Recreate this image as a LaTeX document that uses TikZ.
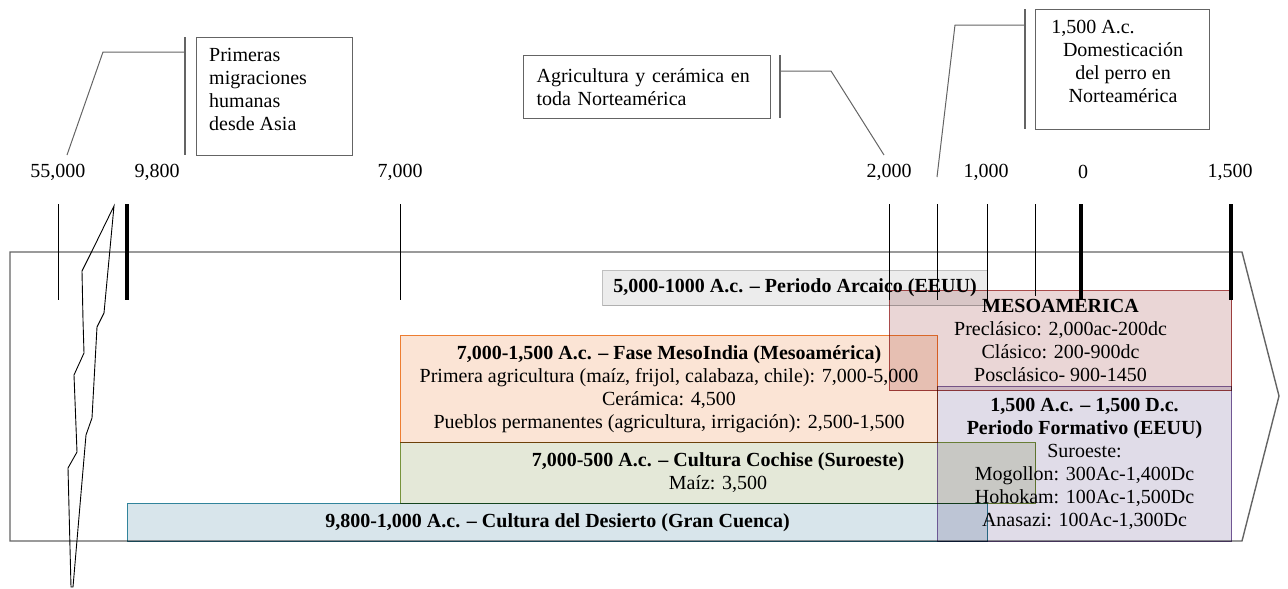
\documentclass[tikz,border=0pt]{standalone}
\usepackage{fontspec}
\setmainfont{Liberation Serif}
\definecolor{outl}{RGB}{100,100,100}
\definecolor{meso}{RGB}{234,214,214}
\definecolor{mesoB}{RGB}{170,75,75}
\definecolor{indi}{RGB}{251,228,213}
\definecolor{indiB}{RGB}{237,125,49}
\definecolor{form}{RGB}{224,220,232}
\definecolor{formB}{RGB}{128,100,162}
\definecolor{coch}{RGB}{228,232,216}
\definecolor{cochB}{RGB}{119,147,60}
\definecolor{dese}{RGB}{216,229,235}
\definecolor{deseB}{RGB}{49,132,155}
\definecolor{arca}{RGB}{236,236,236}
\definecolor{arcaB}{RGB}{191,191,191}
\begin{document}
\begin{tikzpicture}[x=1pt,y=-1pt]
\tikzset{
  txt/.style={font=\fontsize{20}{23}\selectfont, inner sep=0pt},
  bar/.style={txt, anchor=north west, align=center, line width=1pt},
  callout/.style={draw=outl, line width=1.2pt, anchor=north west, inner sep=0pt, fill=white},
  leader/.style={draw=outl, line width=1pt},
  bracket/.style={draw=outl, line width=1.6pt},
  thintick/.style={draw=black, line width=1pt},
  thicktick/.style={draw=black, line width=3.5pt},
}
\useasboundingbox (0,0) rectangle (1288,589);

% big arrow outline
\draw[outl, line width=1.4pt] (10,252) -- (1242,252) -- (1279,396) -- (1242,541) -- (10,541) -- cycle;

% bars
\begin{scope}[blend mode=multiply]
\node[bar, fill=arca, draw=arcaB, minimum width=385pt, minimum height=35pt] (arcaico) at (602,270)
  {\textbf{5,000-1000 A.c. – Periodo Arcaico (EEUU)}};
\node[bar, fill=dese, draw=deseB, minimum width=860pt, minimum height=38pt] (desierto) at (127,503)
  {\textbf{9,800-1,000 A.c. – Cultura del Desierto (Gran Cuenca)}};
\node[bar, fill=coch, draw=cochB, minimum width=635pt, minimum height=61pt] (cochise) at (400,442)
  {\textbf{7,000-500 A.c. – Cultura Cochise (Suroeste)}\\Maíz: 3,500};
\node[bar, fill=indi, draw=indiB, minimum width=537pt, minimum height=107pt] (mesoindia) at (400,335)
  {\textbf{7,000-1,500 A.c. – Fase MesoIndia (Mesoamérica)}\\Primera agricultura (maíz, frijol, calabaza, chile): 7,000-5,000\\Cerámica: 4,500\\Pueblos permanentes (agricultura, irrigación): 2,500-1,500};
\node[bar, fill=meso, draw=mesoB, minimum width=342pt, minimum height=100pt] (mesoam) at (889,290)
  {\textbf{MESOAMERICA}\\Preclásico: 2,000ac-200dc\\Clásico: 200-900dc\\Posclásico- 900-1450};
\node[bar, fill=form, draw=formB, minimum width=294pt, minimum height=155pt] (formativo) at (937,386)
  {\textbf{1,500 A.c. – 1,500 D.c.}\\\textbf{Periodo Formativo (EEUU)}\\Suroeste:\\Mogollon: 300Ac-1,400Dc\\Hohokam: 100Ac-1,500Dc\\Anasazi: 100Ac-1,300Dc};
\end{scope}

% ticks
\coordinate (t1a) at (58,204);   \coordinate (t1b) at (58,300);
\coordinate (t2a) at (127,204);  \coordinate (t2b) at (127,300);
\coordinate (t3a) at (400,204);  \coordinate (t3b) at (400,300);
\coordinate (t4a) at (889,204);  \coordinate (t4b) at (889,300);
\coordinate (t5a) at (937,204);  \coordinate (t5b) at (937,300);
\coordinate (t6a) at (987,204);  \coordinate (t6b) at (987,300);
\coordinate (t7a) at (1035,204); \coordinate (t7b) at (1035,296);
\coordinate (t8a) at (1081,204); \coordinate (t8b) at (1081,300);
\coordinate (t9a) at (1231,204); \coordinate (t9b) at (1231,300);
\draw[thintick] (t1a) -- (t1b);
\draw[thicktick] (t2a) -- (t2b);
\draw[thintick] (t3a) -- (t3b);
\draw[thintick] (t4a) -- (t4b);
\draw[thintick] (t5a) -- (t5b);
\draw[thintick] (t6a) -- (t6b);
\draw[thintick] (t7a) -- (t7b);
\draw[thicktick] (t8a) -- (t8b);
\draw[thicktick] (t9a) -- (t9b);

% tick labels
\node[txt] (l55) at (58,172) {55,000};
\node[txt] (l98) at (157,172) {9,800};
\node[txt] (l70) at (400,172) {7,000};
\node[txt] (l20) at (889,172) {2,000};
\node[txt] (l10) at (986,172) {1,000};
\node[txt] (l0) at (1083,172) {0};
\node[txt] (l15) at (1230,172) {1,500};

% break symbol
\draw[black, line width=0.9pt] (114,206) -- (92,251) -- (82,271) -- (83,320) -- (84,353) -- (74,375)
  -- (77,452) -- (68,468) -- (71,587) -- (73,587) -- (86,435) -- (92,418) -- (97,327) -- (104,313) -- cycle;

% callout 1
\node[callout, minimum width=156pt, minimum height=118pt] (c1) at (196,37) {};
\node[txt, anchor=north west, align=left] (c1t) at (209,48) {Primeras\\migraciones\\humanas\\desde Asia};
\coordinate (b1a) at (185,37); \coordinate (b1b) at (185,155);
\coordinate (k1a) at (185,52); \coordinate (k1b) at (103,52); \coordinate (k1c) at (67,155);
\draw[bracket] (b1a) -- (b1b);
\draw[leader] (k1a) -- (k1b) -- (k1c);

% callout 2
\node[callout, txt, draw=outl, line width=1.2pt, fill=white, minimum width=247pt, minimum height=63pt,
  text width=221pt, align=left, inner xsep=13pt] (c2) at (523,55) {Agricultura y cerámica en\\toda Norteamérica};
\coordinate (b2a) at (780,55); \coordinate (b2b) at (780,118);
\coordinate (k2a) at (780,71); \coordinate (k2b) at (831,71); \coordinate (k2c) at (884,155);
\draw[bracket] (b2a) -- (b2b);
\draw[leader] (k2a) -- (k2b) -- (k2c);

% callout 3
\node[callout, minimum width=174pt, minimum height=120pt] (c3) at (1035,9) {};
\node[txt, anchor=north, align=center] (c3t) at (1123,20) {1,500 A.c.\hspace*{60pt}\\Domesticación\\del perro en\\Norteamérica};
\coordinate (b3a) at (1025,9); \coordinate (b3b) at (1025,129);
\coordinate (k3a) at (1025,25); \coordinate (k3b) at (955,25); \coordinate (k3c) at (937,177);
\draw[bracket] (b3a) -- (b3b);
\draw[leader] (k3a) -- (k3b) -- (k3c);
\end{tikzpicture}
\end{document}
